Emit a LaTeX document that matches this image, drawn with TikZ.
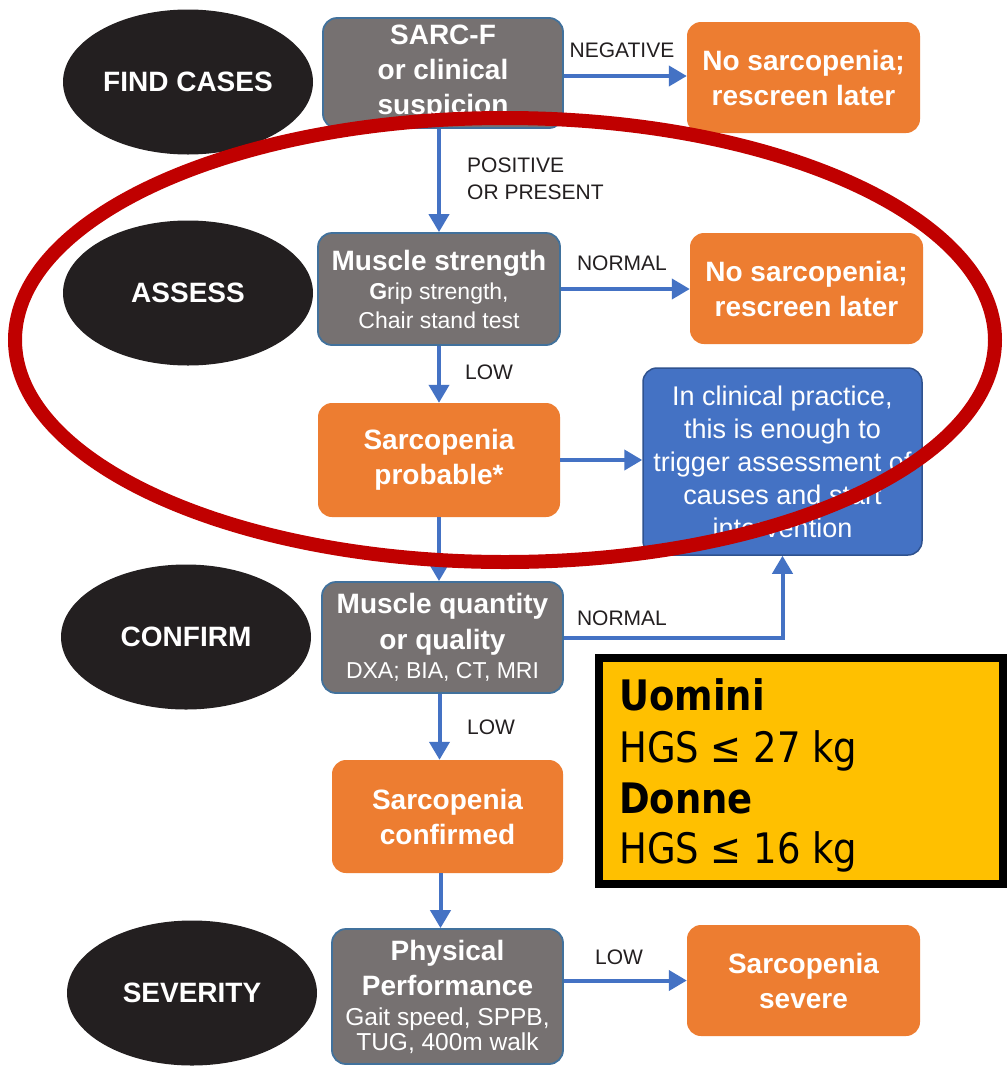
\documentclass[tikz,border=0pt]{standalone}
\usepackage{fontspec}
\setmainfont{Liberation Sans}
\newfontfamily\hgsfont[FakeStretch=0.88]{DejaVu Sans}
\usetikzlibrary{arrows.meta,shapes.geometric,calc}
\definecolor{graybox}{HTML}{767171}
\definecolor{grayedge}{HTML}{41719C}
\definecolor{orangebox}{HTML}{ED7D31}
\definecolor{bluebox}{HTML}{4472C4}
\definecolor{blueedge}{HTML}{2F528F}
\definecolor{arrowblue}{HTML}{4472C4}
\definecolor{phasecol}{HTML}{231F20}
\definecolor{labelcol}{HTML}{231F20}
\definecolor{ringred}{HTML}{C00000}
\definecolor{yellowbox}{HTML}{FFC000}
\newcommand\bxhead{\fontsize{28}{35}\selectfont\bfseries}
\newcommand\bxsmall{\fontsize{23}{29}\selectfont\mdseries}
\newcommand\bxsmaller{\fontsize{24.5}{29}\selectfont\mdseries}
\tikzset{
  box/.style={rounded corners=14pt, align=center, inner sep=0pt, text=white, font=\bxhead},
  gbox/.style={box, fill=graybox, draw=grayedge, line width=1.8pt},
  obox/.style={box, fill=orangebox},
  bbox/.style={box, fill=bluebox, draw=blueedge, line width=1.5pt, font=\fontsize{27}{33}\selectfont},
  phase/.style={ellipse, fill=phasecol, text=white, minimum width=250pt, minimum height=145pt, font=\fontsize{28}{34}\selectfont\bfseries, inner sep=0pt},
  arr/.style={draw=arrowblue, line width=4pt, -{Triangle[length=18pt,width=20pt]}},
  lbl/.style={font=\fontsize{21}{27}\selectfont, text=labelcol, inner sep=0pt},
  hgs/.style={inner sep=0pt, anchor=base west, text=black},
}
\begin{document}
\begin{tikzpicture}[x=1pt,y=-1pt]
\useasboundingbox (0,0) rectangle (1007,1066);
\fill[white] (0,0) rectangle (1007,1066);

% phases
\node[phase] (find) at (188,82) {FIND CASES};
\node[phase] (assess) at (188,293) {ASSESS};
\node[phase] (confirm) at (186,637) {CONFIRM};
\node[phase] (severity) at (192,993) {SEVERITY};

% boxes
\node[gbox, minimum width=240pt, minimum height=110pt] (sarc) at (443,73) {SARC-F\\or clinical\\suspicion};
\node[obox, minimum width=233pt, minimum height=111pt] (no1) at (803.5,77.5) {No sarcopenia;\\rescreen later};
\node[gbox, minimum width=242pt, minimum height=112pt] (ms) at (439,289) {Muscle strength\\[-6pt]{\bxsmall \textbf{G}rip strength,}\\[-6pt]{\bxsmall Chair stand test}};
\node[obox, minimum width=233pt, minimum height=111pt] (no2) at (806.5,288.5) {No sarcopenia;\\rescreen later};
\node[obox, minimum width=242pt, minimum height=114pt] (prob) at (439,460) {Sarcopenia\\probable*};
\node[bbox, minimum width=279pt, minimum height=187pt] (blue) at (782.5,461.5) {In clinical practice,\\this is enough to\\trigger assessment of\\causes and start\\intervention};
\node[gbox, minimum width=241pt, minimum height=111pt] (mq) at (442.5,637.5) {Muscle quantity\\[1pt]or quality\\[-6pt]{\bxsmall DXA; BIA, CT, MRI}};
\node[obox, minimum width=231pt, minimum height=113pt] (conf) at (447.5,816.5) {Sarcopenia\\confirmed};
\node[gbox, minimum width=231pt, minimum height=135pt] (phys) at (447.5,996.5) {Physical\\Performance\\[-5pt]{\bxsmaller Gait speed, SPPB,}\\[-10pt]{\bxsmaller TUG, 400m walk}};
\node[obox, minimum width=233pt, minimum height=111pt] (sev) at (803.5,980.5) {Sarcopenia\\severe};

% connectors
\coordinate (sarcout) at ($(sarc.east)+(0,3)$);
\draw[arr] (sarcout) -- (sarcout -| no1.west);
\draw[arr] (ms.north |- sarc.south) -- (ms.north);
\draw[arr] (ms.east) -- (ms.east -| no2.west);
\draw[arr] (ms.south) -- (prob.north);
\draw[arr] (prob.east) -- (prob.east -| blue.west);
\draw[arr] (prob.south) -- (prob.south |- mq.north);
\draw[arr] (mq.east) -| (blue.south);
\coordinate (cdown) at ($(mq.south)+(-3,0)$);
\draw[arr] (cdown) -- (cdown |- conf.north);
\coordinate (pdown) at ($(conf.south)+(-7,0)$);
\draw[arr] (pdown) -- (pdown |- phys.north);
\draw[arr] (sev.west -| phys.east) -- (sev.west);

% labels
\node[lbl] (lneg) at (622,50) {NEGATIVE};
\node[lbl, align=left, anchor=north west] (lpos) at (467,158) {POSITIVE\\OR PRESENT};
\node[lbl] (lnorm1) at (622,263) {NORMAL};
\node[lbl, anchor=west] (llow1) at (465,372) {LOW};
\node[lbl] (lnorm2) at (622,618) {NORMAL};
\node[lbl, anchor=west] (llow2) at (467,727) {LOW};
\node[lbl] (llow3) at (619,957) {LOW};

% red ring
\draw[ringred, line width=14pt] (505,340) ellipse [x radius=490, y radius=222];

% yellow box
\draw[fill=yellowbox, draw=black, line width=8pt] (599,658) rectangle (1003,884);
\node[hgs, font=\hgsfont\fontsize{42}{42}\selectfont\bfseries] (u1) at (619,710) {Uomini};
\node[hgs, font=\hgsfont\fontsize{42}{42}\selectfont] (u2) at (619,762) {HGS ≤ 27 kg};
\node[hgs, font=\hgsfont\fontsize{42}{42}\selectfont\bfseries] (d1) at (619,813) {Donne};
\node[hgs, font=\hgsfont\fontsize{42}{42}\selectfont] (d2) at (619,863) {HGS ≤ 16 kg};
\end{tikzpicture}
\end{document}
